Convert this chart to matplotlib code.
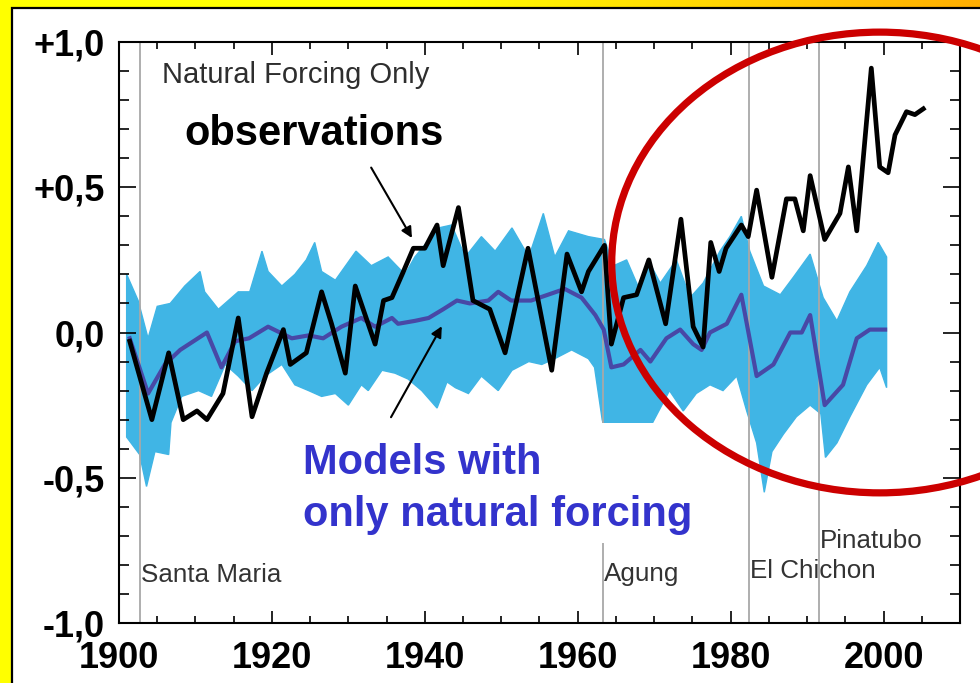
import numpy as np
import matplotlib
matplotlib.use("Agg")
import matplotlib.pyplot as plt
from matplotlib.patches import Rectangle, Ellipse
from matplotlib.ticker import MultipleLocator

plt.rcParams['font.family'] = ['Liberation Sans', 'DejaVu Sans']

obs_years = [1901.4, 1904.3, 1906.5, 1908.4, 1910.2, 1911.5, 1913.6, 1915.6, 1917.4, 1919.3,
             1921.5, 1922.4, 1924.5, 1926.5, 1927.8, 1929.6, 1930.9, 1933.5, 1934.6, 1935.7,
             1937.2, 1938.5, 1940.0, 1941.6, 1942.4, 1944.4, 1946.3, 1948.5, 1950.5, 1953.5,
             1956.6, 1958.6, 1960.5, 1961.4, 1963.5, 1964.4, 1966.0, 1967.7, 1969.3, 1971.5,
             1973.5, 1975.1, 1976.4, 1977.4, 1978.5, 1979.4, 1981.4, 1982.3, 1983.4, 1985.4,
             1987.3, 1988.4, 1989.5, 1990.4, 1992.3, 1994.3, 1995.4, 1996.5, 1998.4, 1999.5,
             2000.6, 2001.5, 2003.0, 2004.1, 2005.2]
obs_anom = [-0.03, -0.30, -0.07, -0.30, -0.27, -0.30, -0.21, 0.05, -0.29, -0.14,
            0.01, -0.11, -0.07, 0.14, 0.03, -0.14, 0.16, -0.04, 0.11, 0.12,
            0.21, 0.29, 0.29, 0.37, 0.23, 0.43, 0.11, 0.08, -0.07, 0.29,
            -0.13, 0.27, 0.14, 0.21, 0.30, -0.04, 0.12, 0.13, 0.25, 0.03,
            0.39, 0.02, -0.05, 0.31, 0.21, 0.29, 0.37, 0.33, 0.49, 0.19,
            0.46, 0.46, 0.35, 0.54, 0.32, 0.41, 0.57, 0.35, 0.91, 0.57,
            0.55, 0.68, 0.76, 0.75, 0.77]

# model ensemble mean (dark blue line)
mean_years = [1901.4, 1903.8, 1906.0, 1908.0, 1911.5, 1913.4, 1915.2, 1917.0, 1919.5, 1922.6,
              1924.8, 1926.7, 1929.1, 1931.7, 1933.5, 1935.7, 1936.5, 1938.7, 1940.5, 1942.4,
              1944.2, 1945.9, 1948.3, 1949.6, 1951.3, 1953.9, 1956.1, 1958.3, 1960.5, 1962.3,
              1963.4, 1964.4, 1966.0, 1968.2, 1969.5, 1971.6, 1973.4, 1975.1, 1976.2, 1977.3,
              1979.5, 1981.4, 1983.4, 1985.6, 1987.8, 1989.3, 1990.4, 1992.3, 1994.7, 1996.5,
              1998.2, 1999.1, 2000.2]
mean_anom = [-0.02, -0.21, -0.11, -0.06, 0.00, -0.12, -0.03, -0.02, 0.02, -0.02,
             -0.01, -0.02, 0.02, 0.05, 0.02, 0.05, 0.03, 0.04, 0.05, 0.08,
             0.11, 0.10, 0.11, 0.14, 0.11, 0.11, 0.13, 0.15, 0.12, 0.06,
             0.01, -0.12, -0.11, -0.06, -0.10, -0.02, 0.01, -0.04, -0.06, 0.00,
             0.03, 0.13, -0.15, -0.11, 0.00, 0.00, 0.06, -0.25, -0.18, -0.02,
             0.01, 0.01, 0.01]

# spread of the individual model runs (light blue band): top and bottom edges
upper_years = [1901.0, 1902.5, 1903.8, 1905.0, 1906.7, 1908.6, 1910.6, 1911.2, 1913.0, 1915.6,
               1917.1, 1918.7, 1919.5, 1921.3, 1923.0, 1924.5, 1925.6, 1926.5, 1928.3, 1931.0,
               1933.0, 1935.2, 1937.4, 1938.7, 1941.8, 1943.5, 1945.3, 1947.4, 1949.2, 1951.4,
               1953.6, 1955.5, 1957.0, 1958.8, 1961.4, 1963.5, 1964.7, 1966.4, 1968.2, 1969.2,
               1970.8, 1972.9, 1974.7, 1976.4, 1978.6, 1979.9, 1981.4, 1982.5, 1984.3, 1986.5,
               1988.2, 1990.4, 1992.1, 1993.9, 1995.6, 1997.8, 1999.3, 2000.4]
upper_anom = [0.20, 0.11, -0.02, 0.09, 0.10, 0.16, 0.21, 0.14, 0.08, 0.14,
              0.14, 0.28, 0.21, 0.16, 0.20, 0.25, 0.31, 0.21, 0.18, 0.28,
              0.23, 0.26, 0.20, 0.26, 0.36, 0.37, 0.26, 0.33, 0.28, 0.36,
              0.26, 0.41, 0.26, 0.35, 0.33, 0.32, 0.23, 0.25, 0.14, 0.25,
              0.17, 0.25, 0.12, 0.17, 0.28, 0.33, 0.40, 0.28, 0.16, 0.13,
              0.19, 0.27, 0.12, 0.04, 0.14, 0.23, 0.31, 0.26]
lower_years = [1901.0, 1902.7, 1903.6, 1904.7, 1906.5, 1906.8, 1908.2, 1910.4, 1912.1, 1913.9,
               1915.6, 1917.4, 1919.1, 1921.3, 1923.0, 1924.8, 1926.5, 1928.3, 1930.0, 1931.7,
               1932.6, 1934.4, 1936.1, 1937.8, 1939.6, 1941.6, 1942.9, 1944.0, 1945.7, 1947.4,
               1949.6, 1951.4, 1953.6, 1955.3, 1957.0, 1959.2, 1961.4, 1962.2, 1963.2, 1964.0,
               1968.0, 1970.0, 1972.0, 1973.8, 1975.5, 1977.3, 1979.0, 1980.8, 1982.1, 1983.4,
               1984.4, 1985.4, 1986.9, 1988.6, 1990.4, 1991.8, 1992.4, 1993.9, 1995.6, 1997.8,
               1999.5, 2000.4]
lower_anom = [-0.36, -0.42, -0.53, -0.41, -0.42, -0.31, -0.22, -0.20, -0.22, -0.11,
              -0.15, -0.20, -0.15, -0.11, -0.18, -0.20, -0.22, -0.21, -0.25, -0.18,
              -0.20, -0.13, -0.14, -0.16, -0.20, -0.26, -0.17, -0.19, -0.21, -0.15,
              -0.20, -0.13, -0.10, -0.11, -0.09, -0.06, -0.09, -0.12, -0.30, -0.38,
              -0.40, -0.30, -0.20, -0.27, -0.21, -0.18, -0.20, -0.15, -0.27, -0.38,
              -0.55, -0.41, -0.35, -0.29, -0.25, -0.28, -0.43, -0.38, -0.29, -0.18,
              -0.12, -0.19]

# volcanic eruptions
volcano_names = ['Santa Maria', 'Agung', 'El Chichon', 'Pinatubo']
volcano_years = [1902.8, 1963.3, 1982.4, 1991.6]
volcano_label_y = [-0.859, -0.855, -0.845, -0.741]

ytick_vals = [-1.0, -0.5, 0.0, 0.5, 1.0]
ytick_text = ['-1,0', '-0,5', '0,0', '+0,5', '+1,0']
xtick_vals = [1900, 1920, 1940, 1960, 1980, 2000]

band_color = '#40b5e5'

fig = plt.figure(figsize=(9.8, 6.83), dpi=100)

# yellow slide background, turning orange towards the top right
bg = fig.add_axes([0, 0, 1, 1], zorder=-10)
t = np.linspace(0, 1, 400)
shade = np.clip((t - 0.45) / 0.55, 0, 1)
img = np.zeros((1, t.size, 3))
img[0, :, 0] = 1.0
img[0, :, 1] = 1.0 - 0.32 * shade
bg.imshow(img, aspect='auto', extent=[0, 1, 0, 1])
bg.add_patch(Rectangle((11.5 / 980, -0.05), 1.2, 0.05 + (683 - 7.5) / 683,
                       transform=bg.transAxes, facecolor='white', edgecolor='black', lw=1.6))
bg.set_xlim(0, 1)
bg.set_ylim(0, 1)
bg.axis('off')

ax = fig.add_axes([119 / 980, 60 / 683, 841 / 980, 581 / 683])
ax.set_facecolor('white')

# model spread
band_x = np.r_[upper_years, lower_years[::-1]]
band_y = np.r_[upper_anom, lower_anom[::-1]]
ax.fill(band_x, band_y, facecolor=band_color, edgecolor=band_color, lw=1.0, zorder=1)

for vx in volcano_years:
    ax.axvline(vx, color='#a8a8a8', lw=1.3, zorder=2)

ax.plot(mean_years, mean_anom, color='#4848a6', lw=3.0, zorder=3, solid_joinstyle='round')
ax.plot(obs_years, obs_anom, color='black', lw=3.4, zorder=4, solid_joinstyle='round')

# white boxes behind the big labels
ax.add_patch(Rectangle((1921.5, -0.725), 56, 0.415, facecolor='white', edgecolor='none', zorder=5))
ax.add_patch(Rectangle((1905.8, 0.583), 39.5, 0.234, facecolor='white', edgecolor='none', zorder=5))

ax.text(1905.6, 0.859, 'Natural Forcing Only', fontsize=21, color='#2e2e2e', zorder=6)
ax.text(1908.6, 0.645, 'observations', fontsize=30, fontweight='bold', color='black', zorder=6)
ax.text(1924.1, -0.486, 'Models with', fontsize=30, fontweight='bold', color='#3333cc', zorder=6)
ax.text(1924.1, -0.666, 'only natural forcing', fontsize=30, fontweight='bold', color='#3333cc', zorder=6)

for name, vx, vy in zip(volcano_names, volcano_years, volcano_label_y):
    ax.text(vx + 0.1, vy, name, fontsize=18.7, color='#333333', zorder=6)

ax.annotate('', xy=(1938.5, 0.317), xytext=(1932.8, 0.576),
            arrowprops=dict(arrowstyle='-|>', color='black', lw=1.5, mutation_scale=16), zorder=7)
ax.annotate('', xy=(1942.4, 0.03), xytext=(1935.4, -0.30),
            arrowprops=dict(arrowstyle='-|>', color='black', lw=1.5, mutation_scale=16), zorder=7)

# the red circle around recent decades
ax.add_patch(Ellipse((1999.5, 0.241), 70.1, 1.586, facecolor='none', edgecolor='#cc0000',
                     lw=5.2, clip_on=False, zorder=10))

ax.set_xlim(1900, 2010)
ax.set_ylim(-1.0, 1.0)
ax.set_xticks(xtick_vals)
ax.set_xticklabels([str(v) for v in xtick_vals], fontsize=26, fontweight='bold')
ax.set_yticks(ytick_vals)
ax.set_yticklabels(ytick_text, fontsize=26, fontweight='bold')
ax.xaxis.set_minor_locator(MultipleLocator(5))
ax.yaxis.set_minor_locator(MultipleLocator(0.1))
ax.tick_params(which='both', direction='in', top=True, right=True, width=1.2)
ax.tick_params(axis='y', which='major', length=12, pad=10)
ax.tick_params(axis='y', which='minor', length=7)
ax.tick_params(axis='x', which='major', length=9, pad=13)
ax.tick_params(axis='x', which='minor', length=5)
for sp in ax.spines.values():
    sp.set_linewidth(1.5)

fig.savefig('out.png', dpi=100)
